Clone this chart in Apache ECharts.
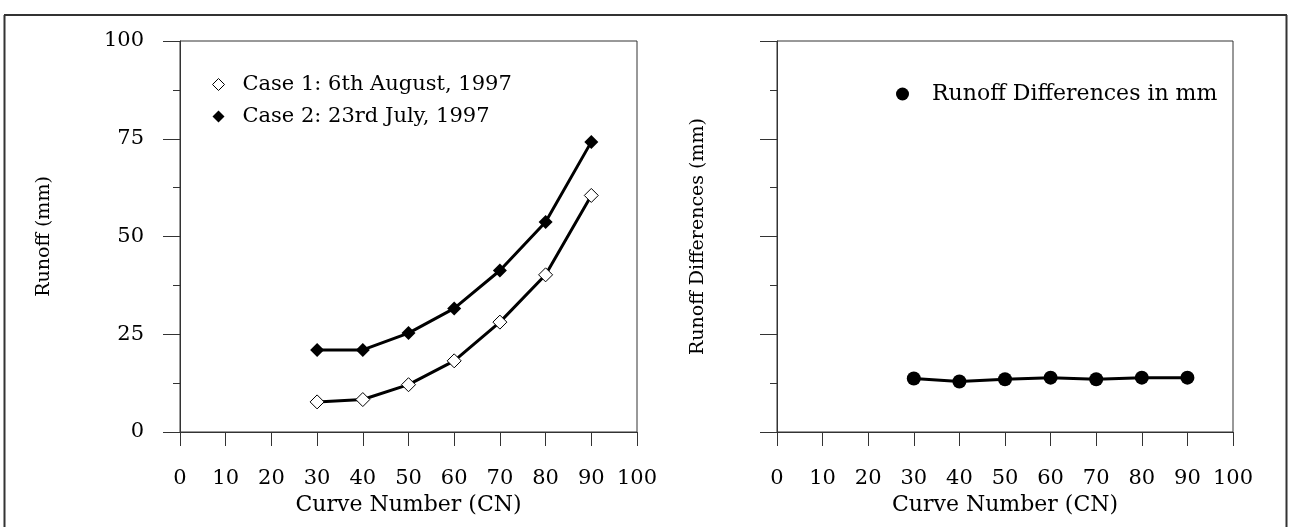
<!DOCTYPE html>
<html>
<head>
<meta charset="utf-8">
<script src="https://cdn.jsdelivr.net/npm/echarts@6/dist/echarts.min.js"></script>
<style>
html,body{margin:0;padding:0;background:#fff;}
#c{width:1290px;height:527px;}
</style>
</head>
<body>
<div id="c"></div>
<script>
const cn = [30, 40, 50, 60, 70, 80, 90];
const case1 = [7.7, 8.3, 12.1, 18.2, 28.1, 40.2, 60.5];
const case2 = [21.0, 21.0, 25.3, 31.6, 41.3, 53.7, 74.2];
const diffs = [13.7, 12.9, 13.5, 13.9, 13.5, 13.9, 13.9];
const xTicks = [0, 10, 20, 30, 40, 50, 60, 70, 80, 90, 100];
const yTicks = [0, 25, 50, 75, 100];

const FONT = 'DejaVu Serif';
const AX = '#333';
const chart = echarts.init(document.getElementById('c'));

function xAxis(gi) {
  return {
    type: 'value', gridIndex: gi, min: xTicks[0], max: xTicks[xTicks.length - 1], interval: 10,
    name: 'Curve Number (CN)', nameLocation: 'middle', nameGap: 54,
    nameTextStyle: {fontFamily: FONT, fontSize: 22, color: '#000'},
    axisLine: {show: true, lineStyle: {color: AX, width: 1}},
    axisTick: {show: true, length: 14, lineStyle: {color: AX, width: 1}},
    axisLabel: {show: true, margin: 36, fontFamily: FONT, fontSize: 21, color: '#000'},
    splitLine: {show: false}
  };
}
function yAxis(gi, name, gap, showLabel) {
  return {
    type: 'value', gridIndex: gi, min: yTicks[0], max: yTicks[yTicks.length - 1], interval: 25,
    name: name, nameLocation: 'middle', nameGap: gap,
    nameTextStyle: {fontFamily: FONT, fontSize: 19, color: '#000'},
    axisLine: {show: true, lineStyle: {color: AX, width: 1}},
    axisTick: {show: true, length: 17, lineStyle: {color: AX, width: 1}},
    minorTick: {show: true, splitNumber: 2, length: 7, lineStyle: {color: AX, width: 1}},
    axisLabel: {show: showLabel, margin: 36, fontFamily: FONT, fontSize: 21, color: '#000'},
    splitLine: {show: false}
  };
}

chart.setOption({
  animation: false,
  backgroundColor: '#fff',
  grid: [
    {left: 180, top: 41, width: 457, height: 391, show: true, borderColor: AX, borderWidth: 1, backgroundColor: 'transparent'},
    {left: 777, top: 41, width: 456, height: 391, show: true, borderColor: AX, borderWidth: 1, backgroundColor: 'transparent'}
  ],
  xAxis: [xAxis(0), xAxis(1)],
  yAxis: [yAxis(0, 'Runoff (mm)', 126, true), yAxis(1, 'Runoff Differences (mm)', 69, false)],
  legend: [
    {
      orient: 'vertical', left: 207, top: 69, itemWidth: 12, itemHeight: 12, itemGap: 11,
      textStyle: {fontFamily: FONT, fontSize: 21, color: '#000', padding: [0, 0, 0, 13]},
      data: [
        {name: 'Case 1: 6th August, 1997', icon: 'diamond', itemStyle: {color: '#fff', borderColor: '#000', borderWidth: 1}},
        {name: 'Case 2: 23rd July, 1997', icon: 'diamond', itemStyle: {color: '#000', borderWidth: 0}}
      ]
    },
    {
      orient: 'vertical', left: 891, top: 78, itemWidth: 13, itemHeight: 13,
      textStyle: {fontFamily: FONT, fontSize: 22, color: '#000', padding: [0, 0, 0, 18]},
      data: [
        {name: 'Runoff Differences in mm', icon: 'circle', itemStyle: {color: '#000', borderWidth: 0}}
      ]
    }
  ],
  graphic: [
    {type: 'line', shape: {x1: 4, y1: 15, x2: 1287, y2: 15}, style: {stroke: '#333', lineWidth: 2}},
    {type: 'line', shape: {x1: 4.5, y1: 15, x2: 4.5, y2: 527}, style: {stroke: '#333', lineWidth: 2}},
    {type: 'line', shape: {x1: 1286.5, y1: 15, x2: 1286.5, y2: 527}, style: {stroke: '#333', lineWidth: 2}}
  ],
  series: [
    {
      name: 'Case 1: 6th August, 1997', type: 'line', xAxisIndex: 0, yAxisIndex: 0,
      data: cn.map((x, i) => [x, case1[i]]),
      symbol: 'diamond', symbolSize: 14,
      lineStyle: {color: '#000', width: 3},
      itemStyle: {color: '#fff', borderColor: '#000', borderWidth: 1}
    },
    {
      name: 'Case 2: 23rd July, 1997', type: 'line', xAxisIndex: 0, yAxisIndex: 0,
      data: cn.map((x, i) => [x, case2[i]]),
      symbol: 'diamond', symbolSize: 14,
      lineStyle: {color: '#000', width: 3},
      itemStyle: {color: '#000', borderColor: '#000', borderWidth: 0}
    },
    {
      name: 'Runoff Differences in mm', type: 'line', xAxisIndex: 1, yAxisIndex: 1,
      data: cn.map((x, i) => [x, diffs[i]]),
      symbol: 'circle', symbolSize: 14,
      lineStyle: {color: '#000', width: 3},
      itemStyle: {color: '#000', borderWidth: 0}
    }
  ]
});
</script>
</body>
</html>
